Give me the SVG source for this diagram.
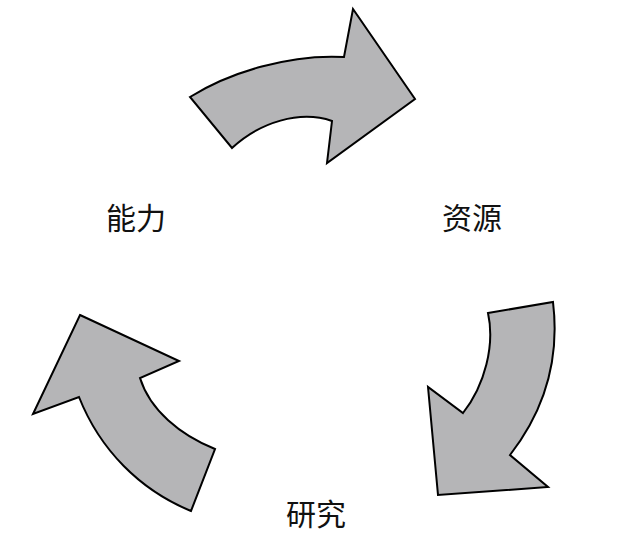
<svg xmlns="http://www.w3.org/2000/svg" width="640" height="545" viewBox="0 0 640 545">
<style>
.arrow{fill:#b5b5b7;stroke:#000;stroke-width:2;stroke-linejoin:miter}
.lbl{font-family:"Noto Sans CJK SC","Noto Sans CJK JP",sans-serif;font-size:30px;fill:#111}
</style>
<rect width="640" height="545" fill="#fff"/>
<g id="connectors">
<path class="arrow" d="M190,97 C230,72 290,54 344,57 L353,9 L415,99 L327,163 L332,121 C300,110 260,122 232,148 Z"/>
<path class="arrow" d="M488,313 L553,302 C560,360 545,410 510,455 L548,487 L438,495 L428,387 L463,413 C485,385 495,345 488,313 Z"/>
<path class="arrow" d="M80,315 L179,361 L140,378 C150,410 180,435 215,449 L191,511 C140,490 100,450 79,397 L33,414 Z"/>
</g>
<g id="node-ability"><text class="lbl" x="106" y="229">能力</text></g>
<g id="node-resource"><text class="lbl" x="442" y="229">资源</text></g>
<g id="node-research"><text class="lbl" x="286" y="525">研究</text></g>
</svg>
